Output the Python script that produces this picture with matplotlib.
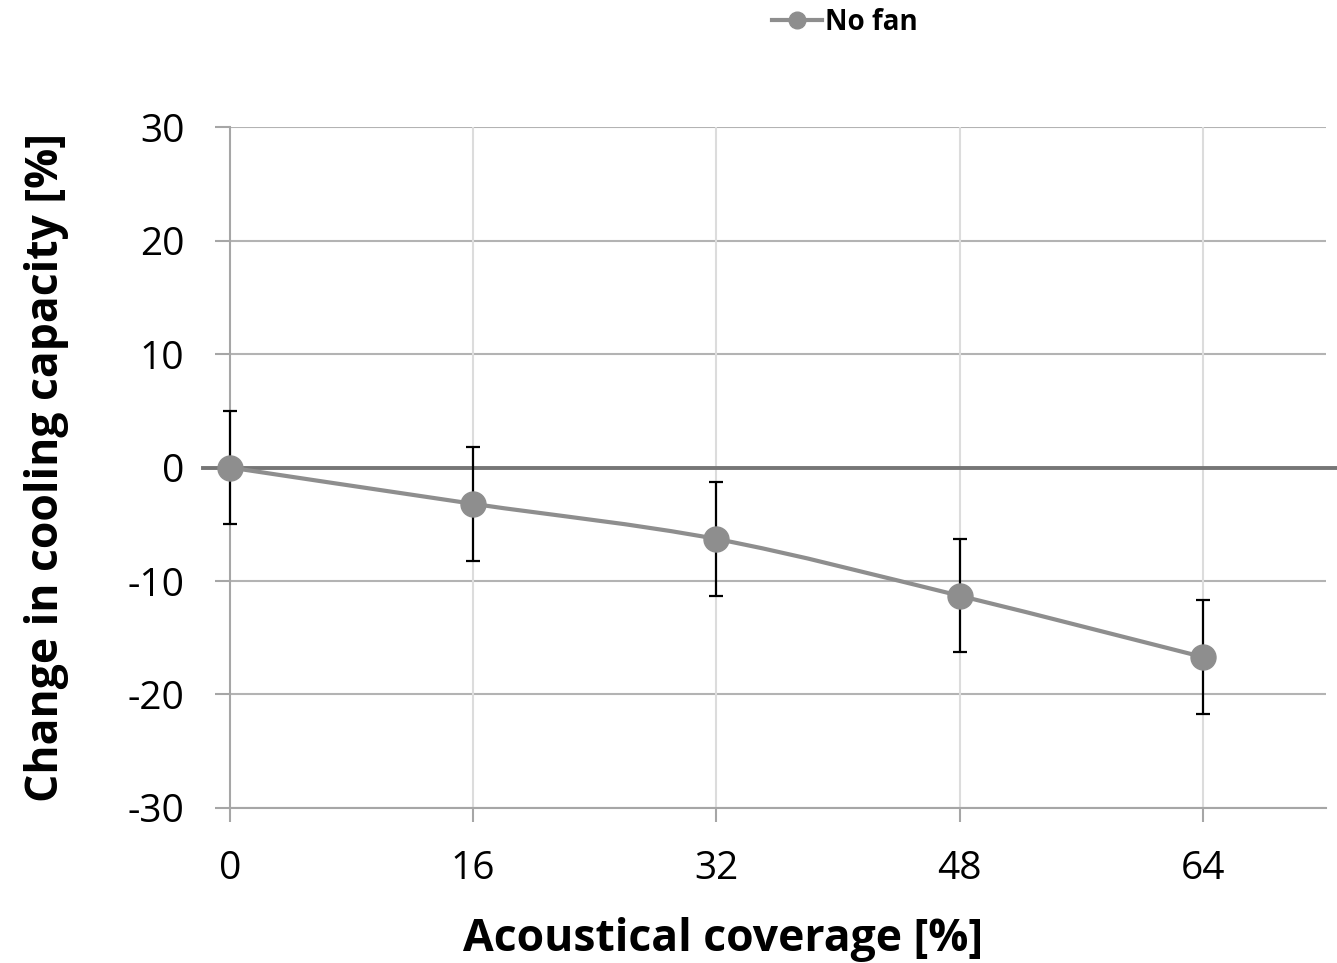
import matplotlib
matplotlib.use("Agg")
import matplotlib.pyplot as plt
from matplotlib.path import Path
from matplotlib.patches import PathPatch
from matplotlib.lines import Line2D

plt.rcParams['font.family'] = ['Open Sans', 'DejaVu Sans']

# data
coverage = [0, 16, 32, 48, 64]
cooling_change = [0.0, -3.2, -6.3, -11.3, -16.7]
error = [5, 5, 5, 5, 5]
y_ticks = [-30, -20, -10, 0, 10, 20, 30]

LINE_GREY = '#8e8e8e'


def smooth_path(xs, ys):
    # Excel-style smoothed line: Catmull-Rom segments as cubic Beziers
    pts = list(zip(xs, ys))
    verts = [pts[0]]
    codes = [Path.MOVETO]
    n = len(pts)
    for i in range(n - 1):
        p0 = pts[i - 1] if i > 0 else pts[i]
        p1 = pts[i]
        p2 = pts[i + 1]
        p3 = pts[i + 2] if i + 2 < n else pts[i + 1]
        c1 = (p1[0] + (p2[0] - p0[0]) / 6, p1[1] + (p2[1] - p0[1]) / 6)
        c2 = (p2[0] - (p3[0] - p1[0]) / 6, p2[1] - (p3[1] - p1[1]) / 6)
        verts += [c1, c2, p2]
        codes += [Path.CURVE4] * 3
    return Path(verts, codes)


fig = plt.figure(figsize=(13.37, 9.63), dpi=100)
ax = fig.add_axes([0.172, 0.161, 0.8198, 0.707])

ax.set_xlim(0, 72.1)
ax.set_ylim(-30, 30)

# grid
for yv in y_ticks:
    ax.axhline(yv, color='#b3b3b3', lw=1.5, zorder=1)
for xv in coverage[1:]:
    ax.axvline(xv, color='#dcdcdc', lw=1.5, zorder=1)

# zero line (category axis crossing)
ax.axhline(0, xmin=-0.025, xmax=1.02, color='#767676', lw=2.8, zorder=2, clip_on=False)

eb = ax.errorbar(coverage, cooling_change, yerr=error, fmt='none', ecolor='black',
                 elinewidth=1.6, capsize=4.7, capthick=1.6, zorder=3)
for art in eb.lines[1] + eb.lines[2]:
    art.set_clip_on(False)

ax.add_patch(PathPatch(smooth_path(coverage, cooling_change), facecolor='none',
                       edgecolor=LINE_GREY, lw=3, zorder=4))
ax.plot(coverage, cooling_change, linestyle='none', marker='o', markersize=18,
        color=LINE_GREY, markeredgecolor=LINE_GREY, zorder=5, clip_on=False)

for side in ['top', 'right']:
    ax.spines[side].set_visible(False)
ax.spines['left'].set_color('#a6a6a6')
ax.spines['left'].set_linewidth(1.5)
ax.spines['bottom'].set_color('#a6a6a6')
ax.spines['bottom'].set_linewidth(1.5)

ax.set_yticks(y_ticks)
ax.set_yticklabels([str(v) for v in y_ticks])
ax.set_xticks(coverage)
ax.set_xticklabels([str(v) for v in coverage])
ax.tick_params(axis='y', length=10.8, width=1.5, color='#a6a6a6', pad=22,
               labelsize=28)
ax.tick_params(axis='x', length=10, width=1.5, color='#a6a6a6', pad=20,
               labelsize=28)

ax.set_xlabel('Acoustical coverage [%]', fontsize=32, fontweight='bold')
ax.xaxis.set_label_coords(0.45, -0.16)
ax.set_ylabel('Change in cooling capacity [%]', fontsize=32, fontweight='bold')
ax.yaxis.set_label_coords(-0.147, 0.5)

handle = Line2D([], [], color=LINE_GREY, lw=3, marker='o', markersize=12)
fig.legend([handle], ['No fan'], loc='center', bbox_to_anchor=(0.632, 0.977),
           frameon=False, prop={'size': 20, 'weight': 'bold'},
           handlelength=1.8, handletextpad=0.12)

fig.savefig('out.png', dpi=100)
